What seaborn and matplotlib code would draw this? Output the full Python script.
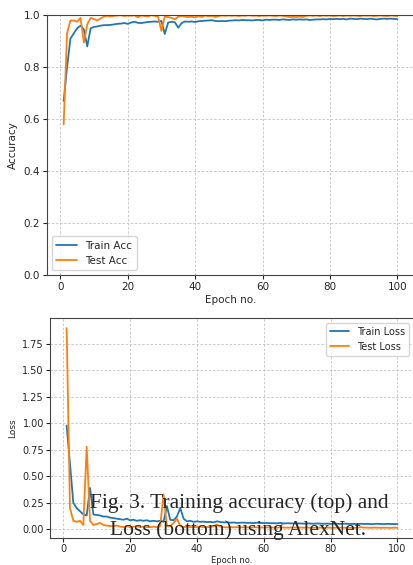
import pandas as pd
import seaborn as sns
import matplotlib
matplotlib.use("Agg")
import matplotlib.pyplot as plt

epochs = list(range(1, 101))

train_acc = [0.67, 0.80, 0.91, 0.93, 0.95, 0.96, 0.945, 0.88, 0.95, 0.955,
             0.957, 0.96, 0.962, 0.962, 0.963, 0.965, 0.967, 0.968, 0.97, 0.967,
             0.972, 0.975, 0.971, 0.97, 0.972, 0.974, 0.975, 0.976, 0.975, 0.978,
             0.928, 0.972, 0.975, 0.973, 0.952, 0.97, 0.976, 0.975, 0.976, 0.974,
             0.977, 0.978, 0.979, 0.98, 0.981, 0.978, 0.977, 0.978, 0.977, 0.979,
             0.98, 0.981, 0.98, 0.982, 0.981, 0.981, 0.98, 0.982, 0.982, 0.98,
             0.983, 0.982, 0.983, 0.983, 0.982, 0.984, 0.983, 0.982, 0.984, 0.983,
             0.984, 0.983, 0.984, 0.982, 0.983, 0.984, 0.984, 0.985, 0.984, 0.986,
             0.985, 0.986, 0.985, 0.986, 0.984, 0.987, 0.986, 0.985, 0.987, 0.986,
             0.985, 0.987, 0.985, 0.984, 0.986, 0.987, 0.986, 0.987, 0.986, 0.985]

test_acc = [0.58, 0.93, 0.98, 0.98, 0.975, 0.99, 0.895, 0.965, 0.99, 0.985,
            0.98, 0.988, 0.995, 0.998, 0.995, 0.998, 0.999, 1.0, 0.997, 0.999,
            0.998, 1.0, 0.992, 0.999, 0.997, 0.996, 1.0, 0.998, 0.995, 0.94,
            0.995, 0.993, 0.99, 0.984, 0.995, 0.997, 0.995, 0.993, 0.994, 0.992,
            0.997, 0.993, 0.999, 0.996, 0.998, 0.993, 0.997, 0.999, 0.998, 0.999,
            0.998, 0.999, 0.997, 0.999, 0.998, 1.0, 0.998, 0.999, 0.997, 0.999,
            0.998, 0.999, 0.998, 0.997, 0.999, 0.998, 0.996, 0.993, 0.994, 0.993,
            0.995, 0.993, 0.998, 0.999, 0.998, 0.999, 0.997, 0.999, 0.998, 0.999,
            0.997, 0.998, 0.999, 0.997, 0.999, 0.998, 0.999, 0.998, 0.997, 0.999,
            0.998, 0.999, 0.997, 0.998, 0.999, 0.998, 0.997, 0.999, 0.998, 0.997]

train_loss = [0.98, 0.62, 0.25, 0.2, 0.17, 0.14, 0.13, 0.39, 0.14, 0.135,
              0.13, 0.12, 0.12, 0.11, 0.105, 0.1, 0.095, 0.09, 0.1, 0.085,
              0.09, 0.08, 0.085, 0.08, 0.085, 0.075, 0.08, 0.075, 0.08, 0.07,
              0.22, 0.09, 0.085, 0.12, 0.2, 0.1, 0.075, 0.08, 0.07, 0.075,
              0.07, 0.072, 0.068, 0.07, 0.065, 0.075, 0.068, 0.065, 0.066, 0.062,
              0.064, 0.06, 0.062, 0.063, 0.06, 0.061, 0.058, 0.062, 0.06, 0.058,
              0.06, 0.057, 0.058, 0.056, 0.06, 0.055, 0.057, 0.056, 0.054, 0.056,
              0.055, 0.053, 0.055, 0.054, 0.052, 0.055, 0.053, 0.052, 0.054, 0.051,
              0.053, 0.052, 0.05, 0.053, 0.052, 0.05, 0.051, 0.049, 0.052, 0.05,
              0.051, 0.049, 0.05, 0.052, 0.05, 0.049, 0.051, 0.05, 0.049, 0.05]

test_loss = [1.9, 0.2, 0.08, 0.07, 0.08, 0.04, 0.78, 0.08, 0.04, 0.05,
             0.06, 0.04, 0.035, 0.03, 0.03, 0.035, 0.025, 0.02, 0.03, 0.02,
             0.025, 0.03, 0.02, 0.025, 0.02, 0.02, 0.025, 0.02, 0.03, 0.33,
             0.03, 0.03, 0.06, 0.1, 0.03, 0.02, 0.025, 0.02, 0.022, 0.02,
             0.025, 0.02, 0.022, 0.02, 0.03, 0.045, 0.025, 0.02, 0.018, 0.02,
             0.018, 0.02, 0.017, 0.019, 0.018, 0.016, 0.02, 0.018, 0.017, 0.016,
             0.018, 0.016, 0.017, 0.015, 0.018, 0.016, 0.015, 0.017, 0.016, 0.015,
             0.016, 0.015, 0.017, 0.015, 0.014, 0.016, 0.015, 0.014, 0.016, 0.015,
             0.014, 0.015, 0.016, 0.014, 0.015, 0.014, 0.013, 0.015, 0.02, 0.016,
             0.015, 0.014, 0.016, 0.015, 0.014, 0.015, 0.014, 0.013, 0.015, 0.014]

colors = ["#1f77b4", "#ff7f0e"]

acc_df = pd.DataFrame({
    "epoch": epochs * 2,
    "value": train_acc + test_acc,
    "series": ["Train Acc"] * 100 + ["Test Acc"] * 100,
})
loss_df = pd.DataFrame({
    "epoch": epochs * 2,
    "value": train_loss + test_loss,
    "series": ["Train Loss"] * 100 + ["Test Loss"] * 100,
})

sns.set_style("ticks")
plt.rcParams["font.family"] = ["DejaVu Sans"]

fig = plt.figure(figsize=(4.14, 5.65), dpi=100)
grid_kw = dict(linestyle=(0, (3, 2)), color="#c4c4c4", linewidth=0.6)

# top: accuracy
ax1 = fig.add_axes([0.1135, 0.513, 0.8865, 0.460])
sns.lineplot(data=acc_df, x="epoch", y="value", hue="series",
             palette=colors, linewidth=1.3, ax=ax1)
ax1.set_ylim(0, 1.0)
ax1.set_xlabel("Epoch no.", fontsize=7.5, labelpad=2)
ax1.set_ylabel("Accuracy", fontsize=7.5)
ax1.tick_params(labelsize=7.5, length=3, pad=2)
ax1.grid(True, **grid_kw)
ax1.legend(title=None, loc="lower left", fontsize=7.5)

# bottom: loss
ax2 = fig.add_axes([0.121, 0.048, 0.879, 0.389])
sns.lineplot(data=loss_df, x="epoch", y="value", hue="series",
             palette=colors, linewidth=1.3, ax=ax2)
ax2.set_yticks([0.0, 0.25, 0.5, 0.75, 1.0, 1.25, 1.5, 1.75])
ax2.set_xlabel("Epoch no.", fontsize=6, labelpad=1)
ax2.set_ylabel("Loss", fontsize=6.5)
ax2.tick_params(labelsize=7, length=3, pad=1.5)
ax2.grid(True, **grid_kw)
ax2.legend(title=None, loc="upper right", fontsize=7)

for ax in (ax1, ax2):
    for s in ax.spines.values():
        s.set_color("#444444")

# caption overlay
fig.text(0.578, 1 - 503 / 565, "Fig. 3. Training accuracy (top) and",
         ha="center", va="center", fontsize=15.5, family="Liberation Serif")
fig.text(0.575, 1 - 530 / 565, "Loss (bottom) using AlexNet.",
         ha="center", va="center", fontsize=15.5, family="Liberation Serif")

fig.savefig("out.png", dpi=100)
